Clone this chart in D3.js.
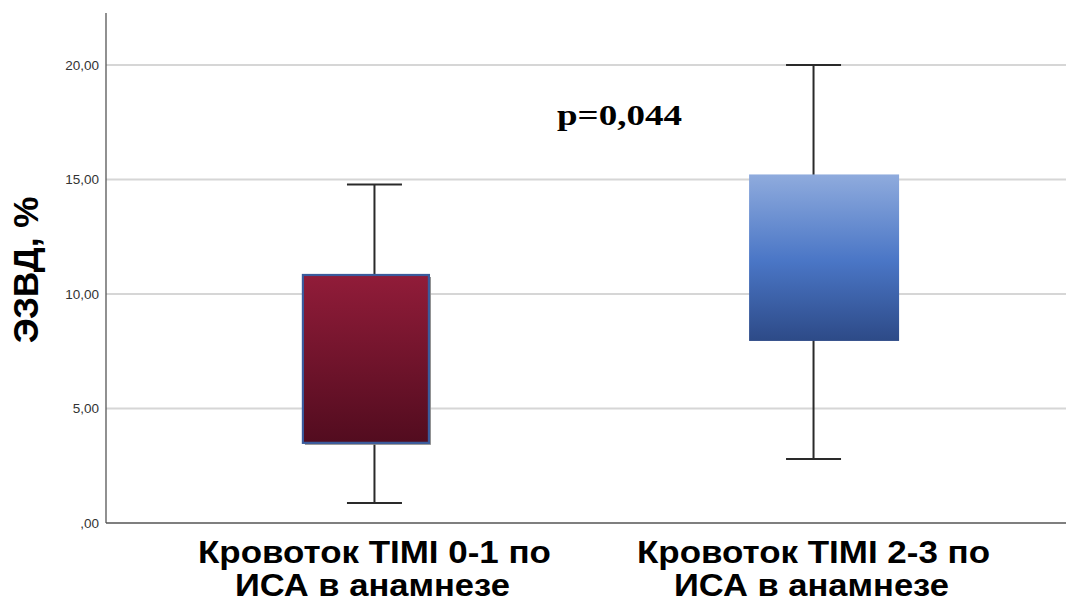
<!DOCTYPE html>
<html lang="ru">
<head>
<meta charset="UTF-8">
<title>ЭЗВД boxplot</title>
<script src="https://d3js.org/d3.v7.min.js"></script>
<style>
  body { margin: 0; background: #fff; }
  svg { display: block; }
</style>
</head>
<body>
<svg id="main" width="1066" height="602"></svg>
<script>
// data
const groups = ["Кровоток TIMI 0-1 по|ИСА в анамнезе", "Кровоток TIMI 2-3 по|ИСА в анамнезе"];
const whiskerLow = [0.87, 2.8];
const q1 = [3.5, 7.95];
const q3 = [10.83, 15.22];
const whiskerHigh = [14.78, 20.0];
const yTicks = [0, 5, 10, 15, 20];
const pLabel = "p=0,044";

const width = 1066, height = 602;
const margin = {top: 13, right: 0, bottom: 79, left: 106};
const svg = d3.select("#main");

const y = d3.scaleLinear()
    .domain([0, 22.27])
    .range([height - margin.bottom, margin.top]);

// whisker / label positions
const x = d3.scalePoint()
    .domain(groups)
    .range([122, width])
    .padding(0.575);
// boxes sit slightly off the whiskers in the original
const xb = d3.scalePoint()
    .domain(groups)
    .range([124, width])
    .padding(0.528);
const boxWidths = [126, 150];
const capW = 55;

const defs = svg.append("defs");
const g1 = defs.append("linearGradient").attr("id", "gRed")
    .attr("x1", 0).attr("y1", 0).attr("x2", 0).attr("y2", 1);
g1.append("stop").attr("offset", "0%").attr("stop-color", "#911c39");
g1.append("stop").attr("offset", "100%").attr("stop-color", "#520c1f");
const g2 = defs.append("linearGradient").attr("id", "gBlue")
    .attr("x1", 0).attr("y1", 0).attr("x2", 0).attr("y2", 1);
g2.append("stop").attr("offset", "0%").attr("stop-color", "#8fabdd");
g2.append("stop").attr("offset", "52%").attr("stop-color", "#4a76c6");
g2.append("stop").attr("offset", "100%").attr("stop-color", "#2d4a87");
const fills = ["url(#gRed)", "url(#gBlue)"];

// grid
svg.append("g")
    .selectAll("line")
    .data(yTicks.slice(1))
    .join("line")
    .attr("x1", margin.left).attr("x2", width)
    .attr("y1", d => y(d)).attr("y2", d => y(d))
    .attr("stroke", "#d6d6d6").attr("stroke-width", 2);

// axes
const yAxis = svg.append("g")
    .attr("transform", `translate(${margin.left},0)`)
    .call(d3.axisLeft(y).tickValues(yTicks).tickSize(0).tickPadding(7)
        .tickFormat(d => d === 0 ? ",00" : d3.format(".2f")(d).replace(".", ",")));
yAxis.select(".domain").remove();
yAxis.selectAll("text")
    .attr("font-family", "Liberation Sans, Arial, sans-serif")
    .attr("font-size", 13.5).attr("fill", "#333");

svg.append("line")
    .attr("x1", margin.left).attr("x2", margin.left)
    .attr("y1", margin.top).attr("y2", y(0))
    .attr("stroke", "#555").attr("stroke-width", 1.3);
svg.append("line")
    .attr("x1", margin.left).attr("x2", width)
    .attr("y1", y(0)).attr("y2", y(0))
    .attr("stroke", "#555").attr("stroke-width", 1.3);

// boxes
const bx = svg.append("g").selectAll("g")
    .data(groups)
    .join("g");

bx.append("line")
    .attr("x1", d => x(d)).attr("x2", d => x(d))
    .attr("y1", (d, i) => y(whiskerLow[i])).attr("y2", (d, i) => y(whiskerHigh[i]))
    .attr("stroke", "#2a2a2a").attr("stroke-width", 2);
bx.append("line")
    .attr("x1", d => x(d) - capW / 2).attr("x2", d => x(d) + capW / 2)
    .attr("y1", (d, i) => y(whiskerLow[i])).attr("y2", (d, i) => y(whiskerLow[i]))
    .attr("stroke", "#2a2a2a").attr("stroke-width", 2);
bx.append("line")
    .attr("x1", d => x(d) - capW / 2).attr("x2", d => x(d) + capW / 2)
    .attr("y1", (d, i) => y(whiskerHigh[i])).attr("y2", (d, i) => y(whiskerHigh[i]))
    .attr("stroke", "#2a2a2a").attr("stroke-width", 2);

// shadow for the first box
bx.filter((d, i) => i === 0).append("rect")
    .attr("x", d => xb(d) - boxWidths[0] / 2 + 2)
    .attr("y", y(q3[0]) + 2)
    .attr("width", boxWidths[0])
    .attr("height", y(q1[0]) - y(q3[0]))
    .attr("fill", "#8a8a8a");

bx.append("rect")
    .attr("x", (d, i) => xb(d) - boxWidths[i] / 2)
    .attr("y", (d, i) => y(q3[i]))
    .attr("width", (d, i) => boxWidths[i])
    .attr("height", (d, i) => y(q1[i]) - y(q3[i]))
    .attr("fill", (d, i) => fills[i])
    .attr("stroke", (d, i) => i === 0 ? "#3a5b9c" : "none")
    .attr("stroke-width", 2.2);

// category labels
const lineLen = [353, 275];
const lab = svg.append("g").selectAll("text")
    .data(groups)
    .join("text")
    .attr("text-anchor", "middle")
    .attr("font-family", "Liberation Sans, Arial, sans-serif")
    .attr("font-weight", "bold")
    .attr("font-size", 31)
    .attr("fill", "#000");
lab.selectAll("tspan")
    .data(d => d.split("|").map(t => ({t, c: d})))
    .join("tspan")
    .attr("x", (d, i) => x(d.c) - i * 2)
    .attr("y", (d, i) => 563 + i * 33)
    .attr("textLength", (d, i) => lineLen[i])
    .attr("lengthAdjust", "spacingAndGlyphs")
    .text(d => d.t);

// y title
svg.append("text")
    .attr("transform", `translate(38,${(margin.top + y(0)) / 2 + 2}) rotate(-90)`)
    .attr("text-anchor", "middle")
    .attr("font-family", "Liberation Sans, Arial, sans-serif")
    .attr("font-weight", "bold")
    .attr("font-size", 35)
    .text("ЭЗВД, %");

// p value
svg.append("text")
    .attr("x", 557).attr("y", 125)
    .attr("font-family", "Liberation Serif, Times New Roman, serif")
    .attr("font-weight", "bold")
    .attr("font-size", 29)
    .attr("textLength", 125)
    .attr("lengthAdjust", "spacingAndGlyphs")
    .text(pLabel);
</script>
</body>
</html>
